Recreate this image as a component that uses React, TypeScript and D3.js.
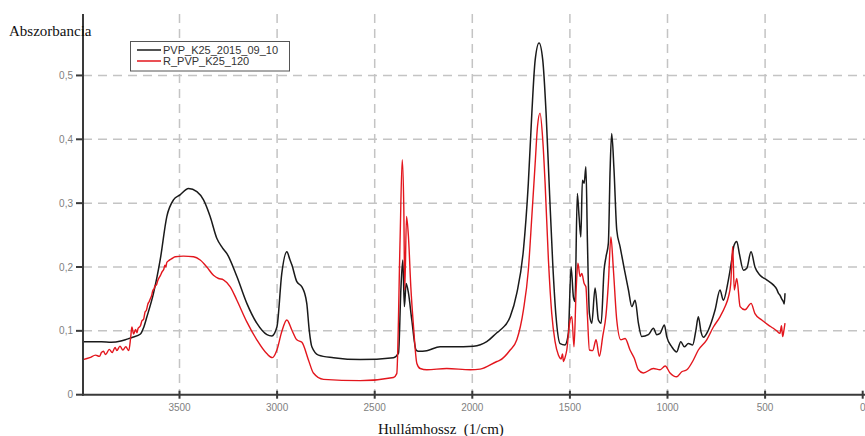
import React from "react";
import * as d3 from "d3";

const blackWn = [3994,3900,3850,3800,3769,3740,3700,3684,3667,3633,3599,3565,3531,3497,3454,3411,3377,3343,3309,3280,3257,3206,3155,3104,3052,3027,3001,2976,2950,2935,2924,2899,2873,2860,2848,2835,2822,2788,2711,2574,2404,2378,2366,2356,2348,2339,2327,2310,2288,2276,2233,2165,2097,1994,1926,1874,1858,1806,1772,1738,1713,1695,1678,1658,1639,1622,1605,1588,1571,1550,1525,1508,1494,1482,1474,1462,1453,1444,1436,1427,1418,1410,1400,1388,1371,1354,1340,1325,1315,1303,1294,1286,1274,1260,1243,1222,1200,1183,1166,1149,1132,1098,1072,1055,1038,1016,1004,978,953,932,914,893,871,855,842,828,816,791,756,731,714,688,671,659,645,632,611,594,572,552,526,492,458,440,432,424,415,407,402,398];
const blackAbs = [0.083,0.083,0.082,0.084,0.087,0.090,0.095,0.105,0.122,0.159,0.211,0.279,0.305,0.313,0.323,0.318,0.305,0.279,0.245,0.230,0.221,0.185,0.143,0.112,0.094,0.092,0.106,0.190,0.224,0.212,0.203,0.177,0.169,0.160,0.143,0.100,0.075,0.062,0.058,0.055,0.058,0.065,0.164,0.211,0.138,0.174,0.159,0.117,0.070,0.068,0.069,0.075,0.075,0.076,0.083,0.097,0.101,0.122,0.159,0.227,0.331,0.441,0.524,0.551,0.524,0.441,0.321,0.206,0.122,0.080,0.078,0.096,0.200,0.153,0.146,0.315,0.279,0.247,0.336,0.331,0.357,0.237,0.127,0.112,0.167,0.117,0.112,0.195,0.216,0.237,0.352,0.409,0.352,0.258,0.232,0.198,0.164,0.138,0.148,0.112,0.091,0.094,0.104,0.094,0.096,0.109,0.091,0.075,0.067,0.083,0.075,0.080,0.078,0.100,0.122,0.098,0.090,0.101,0.133,0.164,0.148,0.180,0.211,0.234,0.240,0.221,0.195,0.198,0.224,0.200,0.187,0.180,0.172,0.165,0.159,0.156,0.150,0.146,0.142,0.159];

const redWn = [3994,3960,3930,3910,3900,3889,3880,3875,3860,3845,3830,3821,3805,3790,3775,3760,3750,3744,3735,3725,3718,3712,3700,3692,3684,3676,3670,3662,3655,3650,3643,3637,3630,3625,3618,3612,3605,3599,3590,3580,3575,3570,3565,3555,3540,3522,3480,3428,3394,3360,3326,3300,3275,3240,3206,3155,3104,3052,3024,3001,2976,2950,2924,2899,2873,2839,2814,2762,2574,2404,2387,2370,2359,2351,2346,2337,2327,2315,2301,2284,2267,2233,2131,2011,1960,1874,1858,1806,1772,1738,1713,1695,1678,1666,1653,1639,1627,1610,1593,1576,1559,1545,1538,1533,1525,1516,1499,1490,1479,1468,1459,1448,1439,1427,1418,1410,1400,1383,1366,1349,1332,1315,1303,1290,1277,1260,1239,1217,1192,1170,1149,1124,1072,1038,1012,987,953,927,901,868,842,799,765,731,705,688,676,666,658,645,628,603,572,552,517,483,458,440,424,416,410,404,398];
const redAbs = [0.055,0.058,0.062,0.060,0.066,0.068,0.063,0.064,0.071,0.066,0.074,0.069,0.076,0.070,0.075,0.069,0.090,0.106,0.095,0.102,0.097,0.104,0.108,0.116,0.118,0.130,0.132,0.142,0.146,0.150,0.155,0.163,0.166,0.171,0.172,0.178,0.183,0.186,0.192,0.197,0.203,0.200,0.207,0.210,0.213,0.216,0.217,0.216,0.211,0.200,0.187,0.182,0.180,0.169,0.148,0.114,0.086,0.064,0.058,0.070,0.099,0.117,0.101,0.086,0.082,0.054,0.034,0.024,0.022,0.027,0.033,0.242,0.368,0.294,0.164,0.279,0.247,0.169,0.106,0.049,0.041,0.039,0.041,0.039,0.040,0.052,0.054,0.070,0.086,0.133,0.195,0.279,0.362,0.420,0.441,0.399,0.331,0.211,0.127,0.083,0.062,0.056,0.064,0.052,0.058,0.070,0.117,0.122,0.075,0.164,0.206,0.185,0.190,0.174,0.169,0.122,0.070,0.069,0.086,0.060,0.091,0.125,0.174,0.247,0.195,0.117,0.086,0.088,0.070,0.057,0.039,0.034,0.041,0.039,0.045,0.034,0.028,0.036,0.039,0.054,0.070,0.086,0.106,0.122,0.138,0.153,0.174,0.232,0.164,0.182,0.138,0.133,0.143,0.127,0.117,0.109,0.104,0.100,0.096,0.108,0.091,0.100,0.112];

const xTicks = [3500, 3000, 2500, 2000, 1500, 1000, 500, 0];
const yTicks = [0, 0.1, 0.2, 0.3, 0.4, 0.5];
const seriesNames = ["PVP_K25_2015_09_10", "R_PVP_K25_120"];
const seriesColors = ["#1a1a1a", "#e3161d"];

const W = 865, H = 436;
const x = d3.scaleLinear().domain([4000, 0]).range([81.9, 862.7]);
const y = d3.scaleLinear().domain([0, 0.6]).range([394.7, 11.6]);

const fmt = (v: number) => (v === 0 ? "0" : v.toFixed(1).replace(".", ","));

export default function App() {
  const line = d3
    .line<[number, number]>()
    .x((d) => x(d[0]))
    .y((d) => y(d[1]))
    .curve(d3.curveMonotoneX);
  const blackPts = blackWn.map((w, i) => [w, blackAbs[i]] as [number, number]);
  const redPts = redWn.map((w, i) => [w, redAbs[i]] as [number, number]);
  const axisX = 83;
  const axisY = y(0);
  const sans = "'Liberation Sans', Arial, sans-serif";
  const serif = "'Liberation Serif', 'Times New Roman', serif";
  return (
    <div style={{ position: "absolute", left: 0, top: 0 }}>
      <svg width={W} height={H} style={{ display: "block", background: "#fff" }}>
        {yTicks.filter((t) => t > 0).map((t) => (
          <line key={"gy" + t} x1={axisX} x2={W} y1={y(t)} y2={y(t)} stroke="#c4c4c4" strokeWidth={1.5} strokeDasharray="9,6" />
        ))}
        {xTicks.filter((t) => t > 0).map((t) => (
          <line key={"gx" + t} x1={x(t)} x2={x(t)} y1={14} y2={axisY} stroke="#c4c4c4" strokeWidth={1.5} strokeDasharray="9,6" />
        ))}
        <path d={line(blackPts) || ""} fill="none" stroke={seriesColors[0]} strokeWidth={1.5} strokeLinejoin="round" />
        <path d={line(redPts) || ""} fill="none" stroke={seriesColors[1]} strokeWidth={1.4} strokeLinejoin="round" />
        <line x1={axisX} x2={axisX} y1={14} y2={axisY + 1} stroke="#3a3a3a" strokeWidth={2} />
        <line x1={axisX - 1} x2={W} y1={axisY} y2={axisY} stroke="#3a3a3a" strokeWidth={2} />
        {yTicks.map((t) => (
          <g key={"ty" + t}>
            <line x1={axisX - 7} x2={axisX} y1={y(t)} y2={y(t)} stroke="#3a3a3a" strokeWidth={2} />
            <text x={axisX - 10} y={y(t) + 3.5} textAnchor="end" fontFamily={sans} fontSize={10} fill="#808080">{fmt(t)}</text>
          </g>
        ))}
        {xTicks.map((t) => (
          <g key={"tx" + t}>
            <line x1={x(t)} x2={x(t)} y1={axisY - 4} y2={axisY + 4} stroke="#3a3a3a" strokeWidth={2} />
            <text x={x(t)} y={axisY + 16} textAnchor="middle" fontFamily={sans} fontSize={10} fill="#808080">{t}</text>
          </g>
        ))}
        <text x={9} y={36} fontFamily={serif} fontSize={15} fill="#111">Abszorbancia</text>
        <text x={378} y={434} fontFamily={serif} fontSize={15} fill="#111" xmlSpace="preserve">Hullámhossz  (1/cm)</text>
        <rect x={130.5} y={41.5} width={159} height={29.5} fill="#fff" stroke="#555" strokeWidth={1} />
        {seriesNames.map((n, i) => (
          <g key={n}>
            <line x1={137} x2={161} y1={50 + i * 11} y2={50 + i * 11} stroke={seriesColors[i]} strokeWidth={1.5} />
            <text x={163} y={54 + i * 11} fontFamily={sans} fontSize={11} fill="#333">{n}</text>
          </g>
        ))}
      </svg>
    </div>
  );
}
